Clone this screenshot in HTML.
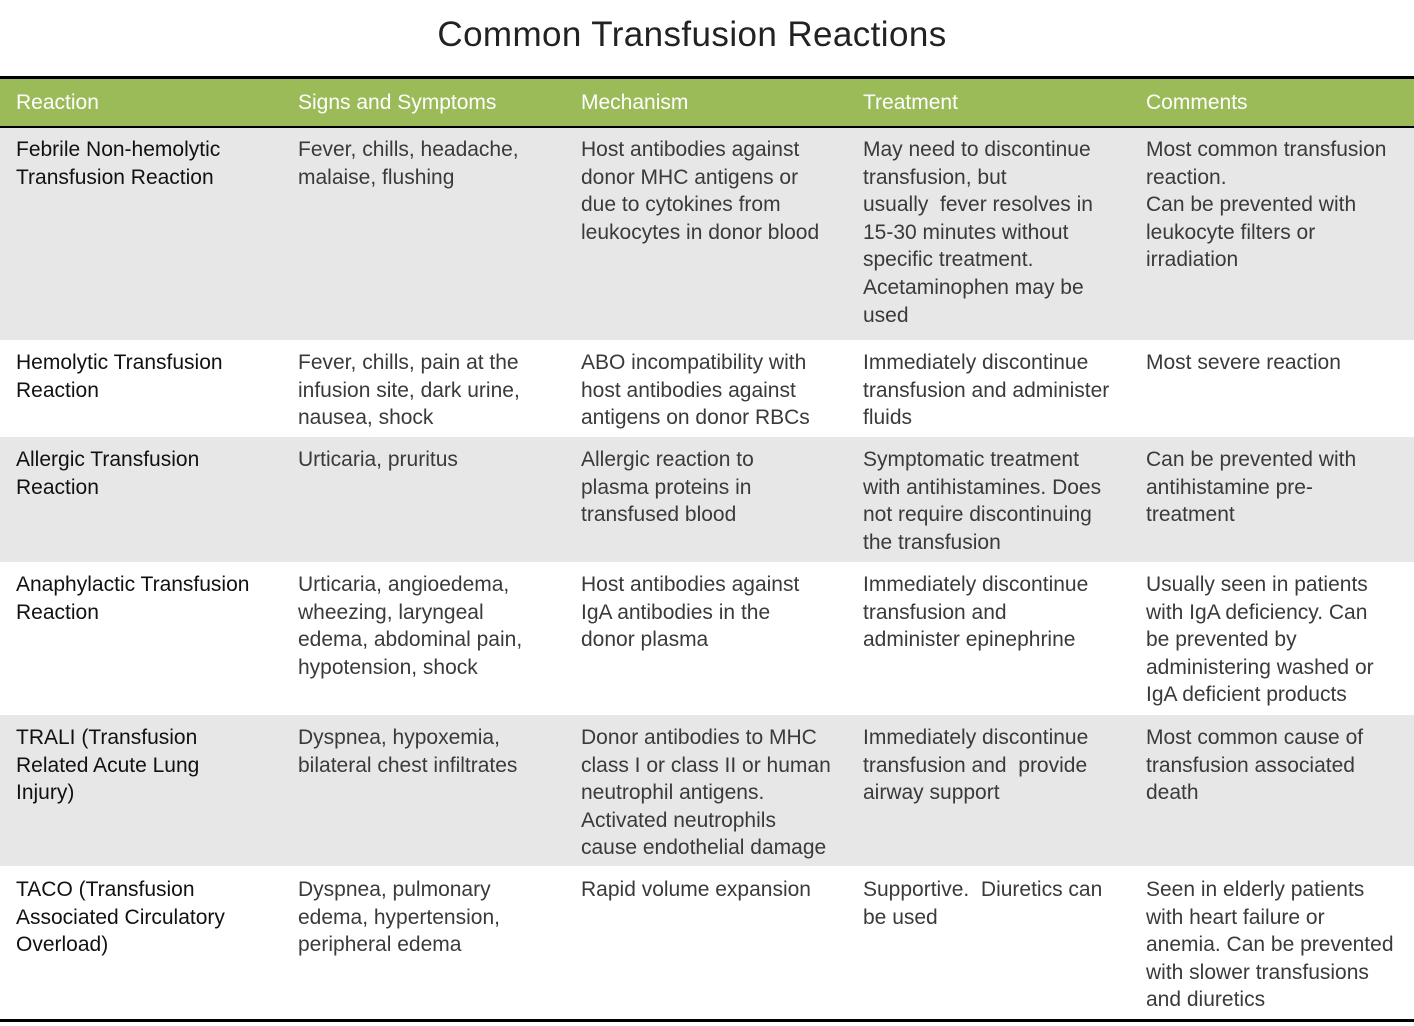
<!DOCTYPE html>
<html><head><meta charset="utf-8"><style>
body{margin:0;width:1414px;height:1026px;background:#fff;position:relative;overflow:hidden;font-family:"Liberation Sans",sans-serif}
.t{position:absolute;top:15px;left:0;width:1384px;text-align:center;font-size:35px;color:#222;letter-spacing:0.4px}
.hl{position:absolute;left:0;width:1414px;background:#000}
.g{position:absolute;left:0;width:1414px}
.c{position:absolute;font-size:21px;line-height:27.6px;white-space:nowrap;color:#3a3a3a}
.c.f{color:#111}
.h{position:absolute;top:91px;font-size:21px;color:#fff}
</style></head><body>
<div class="t">Common Transfusion Reactions</div>
<div class="hl" style="top:76px;height:3px"></div>
<div class="g" style="top:79px;height:47px;background:#9BBB59"></div>
<div class="hl" style="top:126px;height:2px"></div>
<div class="h" style="left:16px">Reaction</div>
<div class="h" style="left:298px">Signs and Symptoms</div>
<div class="h" style="left:581px">Mechanism</div>
<div class="h" style="left:863px">Treatment</div>
<div class="h" style="left:1146px">Comments</div>

<div class="g" style="top:128px;height:212px;background:#E7E7E7"></div>
<div class="g" style="top:437px;height:125px;background:#E7E7E7"></div>
<div class="g" style="top:715px;height:151px;background:#E7E7E7"></div>
<div class="hl" style="top:1019px;height:3px"></div>

<div class="c f" style="left:16px;top:136px">Febrile Non-hemolytic<br>Transfusion Reaction</div>
<div class="c" style="left:298px;top:136px">Fever, chills, headache,<br>malaise, flushing</div>
<div class="c" style="left:581px;top:136px">Host antibodies against<br>donor MHC antigens or<br>due to cytokines from<br>leukocytes in donor blood</div>
<div class="c" style="left:863px;top:136px">May need to discontinue<br>transfusion, but<br>usually&nbsp; fever resolves in<br>15-30 minutes without<br>specific treatment.<br>Acetaminophen may be<br>used</div>
<div class="c" style="left:1146px;top:136px">Most common transfusion<br>reaction.<br>Can be prevented with<br>leukocyte filters or<br>irradiation</div>

<div class="c f" style="left:16px;top:349px">Hemolytic Transfusion<br>Reaction</div>
<div class="c" style="left:298px;top:349px">Fever, chills, pain at the<br>infusion site, dark urine,<br>nausea, shock</div>
<div class="c" style="left:581px;top:349px">ABO incompatibility with<br>host antibodies against<br>antigens on donor RBCs</div>
<div class="c" style="left:863px;top:349px">Immediately discontinue<br>transfusion and administer<br>fluids</div>
<div class="c" style="left:1146px;top:349px">Most severe reaction</div>

<div class="c f" style="left:16px;top:446px">Allergic Transfusion<br>Reaction</div>
<div class="c" style="left:298px;top:446px">Urticaria, pruritus</div>
<div class="c" style="left:581px;top:446px">Allergic reaction to<br>plasma proteins in<br>transfused blood</div>
<div class="c" style="left:863px;top:446px">Symptomatic treatment<br>with antihistamines. Does<br>not require discontinuing<br>the transfusion</div>
<div class="c" style="left:1146px;top:446px">Can be prevented with<br>antihistamine pre-<br>treatment</div>

<div class="c f" style="left:16px;top:571px">Anaphylactic Transfusion<br>Reaction</div>
<div class="c" style="left:298px;top:571px">Urticaria, angioedema,<br>wheezing, laryngeal<br>edema, abdominal pain,<br>hypotension, shock</div>
<div class="c" style="left:581px;top:571px">Host antibodies against<br>IgA antibodies in the<br>donor plasma</div>
<div class="c" style="left:863px;top:571px">Immediately discontinue<br>transfusion and<br>administer epinephrine</div>
<div class="c" style="left:1146px;top:571px">Usually seen in patients<br>with IgA deficiency. Can<br>be prevented by<br>administering washed or<br>IgA deficient products</div>

<div class="c f" style="left:16px;top:724px">TRALI (Transfusion<br>Related Acute Lung<br>Injury)</div>
<div class="c" style="left:298px;top:724px">Dyspnea, hypoxemia,<br>bilateral chest infiltrates</div>
<div class="c" style="left:581px;top:724px">Donor antibodies to MHC<br>class I or class II or human<br>neutrophil antigens.<br>Activated neutrophils<br>cause endothelial damage</div>
<div class="c" style="left:863px;top:724px">Immediately discontinue<br>transfusion and&nbsp; provide<br>airway support</div>
<div class="c" style="left:1146px;top:724px">Most common cause of<br>transfusion associated<br>death</div>

<div class="c f" style="left:16px;top:876px">TACO (Transfusion<br>Associated Circulatory<br>Overload)</div>
<div class="c" style="left:298px;top:876px">Dyspnea, pulmonary<br>edema, hypertension,<br>peripheral edema</div>
<div class="c" style="left:581px;top:876px">Rapid volume expansion</div>
<div class="c" style="left:863px;top:876px">Supportive.&nbsp; Diuretics can<br>be used</div>
<div class="c" style="left:1146px;top:876px">Seen in elderly patients<br>with heart failure or<br>anemia. Can be prevented<br>with slower transfusions<br>and diuretics</div>
</body></html>
